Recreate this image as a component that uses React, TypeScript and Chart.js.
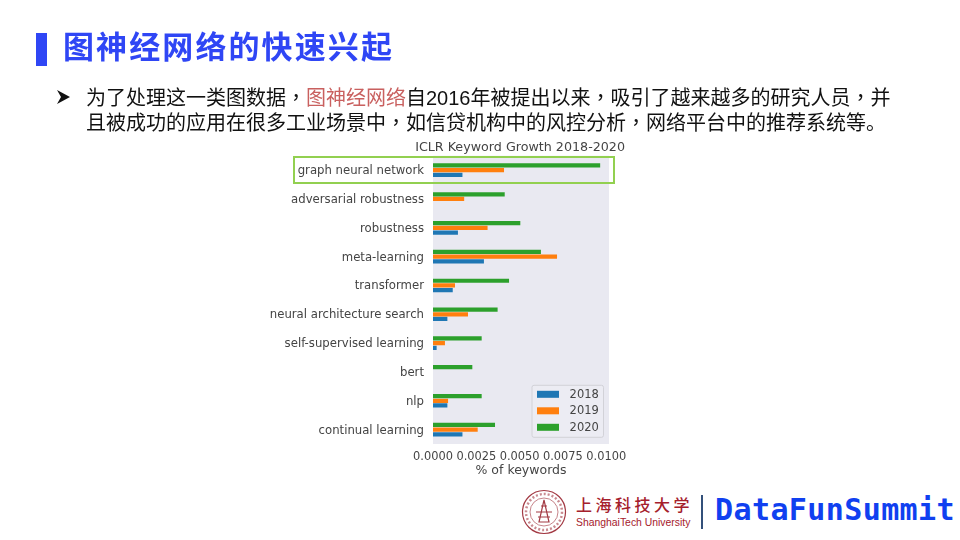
import React, { useEffect, useRef } from "react";
import { Chart, registerables } from "chart.js";

Chart.register(...registerables);

const categories = [
  "graph neural network",
  "adversarial robustness",
  "robustness",
  "meta-learning",
  "transformer",
  "neural architecture search",
  "self-supervised learning",
  "bert",
  "nlp",
  "continual learning",
];
const values2018 = [0.0017, 0, 0.00144, 0.00294, 0.00114, 0.00083, 0.00021, 0, 0.00083, 0.0017];
const values2019 = [0.0041, 0.0018, 0.00315, 0.00716, 0.00127, 0.00202, 0.00069, 0, 0.00087, 0.00258];
const values2020 = [0.00965, 0.00414, 0.00504, 0.00623, 0.00439, 0.00373, 0.00281, 0.00227, 0.00281, 0.00358];
const xTicks = [0, 0.0025, 0.005, 0.0075, 0.01];
const chartTitle = "ICLR Keyword Growth 2018-2020";
const xTitle = "% of keywords";
const DV = "'DejaVu Sans', sans-serif";
const CJK = "'Liberation Sans', 'Noto Sans CJK SC', sans-serif";
const TC = "'Noto Sans CJK TC', sans-serif";
const INK = "#444444";

const legendPlugin = {
  id: "insideLegend",
  afterDatasetsDraw(chart: any) {
    const { ctx, chartArea } = chart;
    const items = [...chart.data.datasets].reverse();
    const w = 71.5, h = 52;
    const x = chartArea.right - 5.5 - w;
    const y = chartArea.bottom - 6.7 - h;
    ctx.save();
    ctx.fillStyle = "rgba(236,236,243,0.85)";
    ctx.strokeStyle = "#d2d2d8";
    ctx.lineWidth = 1;
    ctx.beginPath();
    ctx.roundRect(x, y, w, h, 2);
    ctx.fill();
    ctx.stroke();
    ctx.font = `11.5px ${DV}`;
    ctx.textBaseline = "middle";
    items.forEach((d: any, i: number) => {
      const cy = y + 9 + i * 16.5;
      ctx.fillStyle = d.backgroundColor;
      ctx.fillRect(x + 5, cy - 3.5, 22, 7);
      ctx.fillStyle = INK;
      ctx.fillText(d.label, x + 37.6, cy + 0.5);
    });
    ctx.restore();
  },
};

const plotBgPlugin = {
  id: "plotBg",
  afterLayout(chart: any) {
    // the reference's title runs past the right edge of the plot
    if (chart.titleBlock) chart.titleBlock.right = chart.chartArea.right + 16;
  },
  beforeDraw(chart: any) {
    const { ctx, chartArea } = chart;
    ctx.save();
    ctx.fillStyle = "#e9e9f1";
    ctx.fillRect(chartArea.left, chartArea.top, chartArea.right - chartArea.left, chartArea.bottom - chartArea.top);
    ctx.restore();
  },
};

function Logo() {
  return (
    <>
      <svg width={60} height={50} style={{ position: "absolute", left: 518, top: 488 }} viewBox="0 0 60 50">
        <circle cx={26} cy={24} r={21.5} fill="none" stroke="#a33a44" strokeWidth={1.2} />
        <circle cx={26} cy={24} r={14} fill="none" stroke="#b8646c" strokeWidth={0.8} />
        <path d="M26 12 L21 34 H31 Z" fill="none" stroke="#a33a44" strokeWidth={1.2} />
        <path d="M18 24 H34 M20 29 H32 M23 18 H29" stroke="#a33a44" strokeWidth={1} />
        <circle cx={26} cy={24} r={18} fill="none" stroke="#c98a90" strokeWidth={2.5} strokeDasharray="2 2" />
      </svg>
      <div style={{ position: "absolute", left: 576, top: 496, fontFamily: CJK, fontWeight: 500, fontSize: 16, lineHeight: "20px", letterSpacing: 3.5, color: "#a5202c", whiteSpace: "nowrap" }}>上海科技大学</div>
      <div style={{ position: "absolute", left: 576, top: 516, fontFamily: "'Liberation Sans', sans-serif", fontSize: 10.4, lineHeight: "13px", color: "#a5202c", whiteSpace: "nowrap" }}>ShanghaiTech University</div>
      <div style={{ position: "absolute", left: 701, top: 495, width: 2, height: 34, background: "#33507a" }} />
      <div style={{ position: "absolute", left: 715, top: 492, fontFamily: "'DejaVu Sans Mono', monospace", fontWeight: 700, fontSize: 30, lineHeight: "36px", letterSpacing: 0.4, color: "#1040f0", whiteSpace: "nowrap" }}>DataFunSummit</div>
    </>
  );
}

const Comma = () => <span style={{ fontFamily: TC }}>，</span>;

export default function App() {
  const ref = useRef<HTMLCanvasElement>(null);
  useEffect(() => {
    document.body.style.margin = "0";
    const chart = new Chart(ref.current as HTMLCanvasElement, {
      type: "bar",
      data: {
        labels: categories,
        datasets: [
          { label: "2020", data: values2020, backgroundColor: "#2ca02c" },
          { label: "2019", data: values2019, backgroundColor: "#ff7f0e" },
          { label: "2018", data: values2018, backgroundColor: "#1f77b4" },
        ],
      },
      options: {
        indexAxis: "y",
        animation: false,
        responsive: false,
        layout: { autoPadding: false, padding: { left: 0, right: 351, top: 0, bottom: 0 } },
        plugins: {
          legend: { display: false },
          tooltip: { enabled: false },
          title: {
            display: true,
            text: chartTitle,
            align: "end",
            color: INK,
            font: { family: DV, size: 12.7, weight: "normal" },
            padding: { top: 140, bottom: 0.5 },
          },
        },
        datasets: { bar: { categoryPercentage: 0.49, barPercentage: 0.9 } },
        scales: {
          y: {
            grid: { display: false, drawTicks: false },
            border: { display: false },
            ticks: { color: INK, font: { family: DV, size: 11.7 }, padding: 9, labelOffset: 1 },
            afterFit(s: any) { s.width = 433; },
          },
          x: {
            min: 0,
            max: 0.01016,
            grid: { display: false, drawTicks: false },
            border: { display: false },
            afterBuildTicks(s: any) { s.ticks = xTicks.map((value) => ({ value })); },
            ticks: {
              color: INK,
              font: { family: DV, size: 11.4 },
              maxRotation: 0,
              autoSkip: false,
              padding: 6.5,
              callback: (v: any) => Number(v).toFixed(4),
            },
            title: { display: true, text: xTitle, color: INK, font: { family: DV, size: 12.5 }, padding: { top: 0, bottom: 0 } },
            afterFit(s: any) { s.height = 34; },
          },
        },
      } as any,
      plugins: [plotBgPlugin, legendPlugin],
    });
    return () => chart.destroy();
  }, []);
  return (
    <div style={{ position: "relative", width: 960, height: 540, background: "#fff", overflow: "hidden" }}>
      <canvas ref={ref} width={960} height={478} style={{ position: "absolute", left: 0, top: 0, filter: "blur(0.35px)" }} />
      <div style={{ position: "absolute", left: 36, top: 33, width: 11, height: 33, background: "#2f46f5" }} />
      <div style={{ position: "absolute", left: 63, top: 27, fontFamily: CJK, fontWeight: 700, fontSize: 31, lineHeight: "42px", letterSpacing: 2.1, color: "#2f46f5", whiteSpace: "nowrap" }}>图神经网络的快速兴起</div>
      <svg width={16} height={16} style={{ position: "absolute", left: 56, top: 89 }} viewBox="0 0 16 16">
        <path d="M1 1 L14 8 L1 15 L5 8 Z" fill="#111" />
      </svg>
      <div style={{ position: "absolute", left: 86, top: 84, fontFamily: CJK, fontSize: 20, lineHeight: "25px", color: "#111", whiteSpace: "nowrap" }}>
        <div style={{ height: 25 }}>为了处理这一类图数据<Comma /><span style={{ color: "#c9605f" }}>图神经网络</span>自2016年被提出以来<Comma />吸引了越来越多的研究人员<Comma />并</div>
        <div style={{ height: 25 }}>且被成功的应用在很多工业场景中<Comma />如信贷机构中的风控分析<Comma />网络平台中的推荐系统等。</div>
      </div>
      <div style={{ position: "absolute", left: 293, top: 156, width: 318, height: 23.5, border: "2px solid #92d050", boxSizing: "content-box" }} />
      <Logo />
    </div>
  );
}
